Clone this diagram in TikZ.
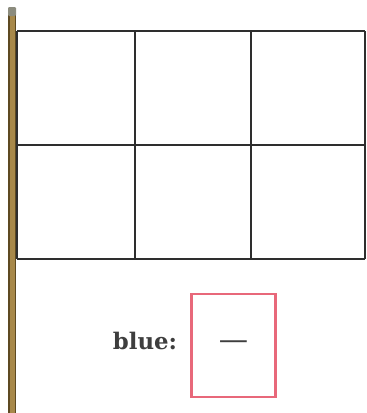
\documentclass[tikz,border=0pt]{standalone}
\usepackage{fontspec}
\setmainfont{DejaVu Serif}
\definecolor{pole}{HTML}{A8894A}
\definecolor{poledark}{HTML}{5E4A22}
\definecolor{knob}{HTML}{8C8C7E}
\definecolor{gridline}{HTML}{2E2E2E}
\definecolor{answerred}{HTML}{E8687A}
\definecolor{labeltext}{HTML}{3E3E3E}
\begin{document}
\begin{tikzpicture}[x=0.03cm,y=-0.03cm,every node/.style={text=labeltext}]
\useasboundingbox (0,0) rectangle (367,413);
% Flag pole with its small knob on top.
\fill[poledark] (8,12) rectangle (16,413);
\fill[pole] (10,12) rectangle (15,413);
\fill[knob,rounded corners=1pt] (8,7) rectangle (16,16);
% Flag: three columns by two rows.
\foreach \x in {17,135,251,365}{\draw[gridline,line width=1.6pt] (\x,31) -- (\x,259);}
\foreach \y in {31,145,259}{\draw[gridline,line width=1.6pt] (17,\y) -- (365,\y);}
% Answer prompt.
\node[font=\fontsize{19.5}{22}\selectfont\bfseries] (bluelabel) at (145,341) {blue:};
\node[draw=answerred,line width=1.8pt,minimum width=84*0.03cm,minimum height=103*0.03cm,inner sep=0pt,font=\fontsize{25}{26}\selectfont] (answerbox) at (233.5,345.5) {---};
\end{tikzpicture}
\end{document}
